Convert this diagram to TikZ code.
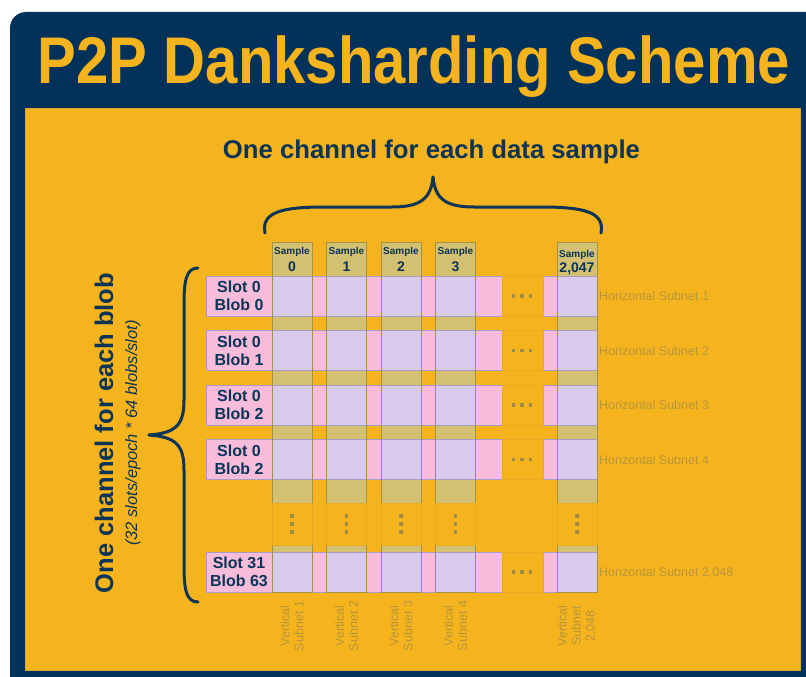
\documentclass[tikz,border=0pt]{standalone}
\usepackage{graphicx}
\usepackage{fontspec}
\setmainfont{Liberation Sans}
\definecolor{navy}{HTML}{02315A}
\definecolor{gold}{HTML}{F5B41E}
\definecolor{txtnavy}{HTML}{0C3457}
\definecolor{pinkc}{HTML}{F7BCD9}
\definecolor{lav}{HTML}{D8CAEA}
\definecolor{olive}{HTML}{D3C071}
\definecolor{oliveline}{HTML}{A39146}
\definecolor{rowline}{HTML}{A99CC4}
\definecolor{faint}{HTML}{E6AC24}
\definecolor{dotc}{HTML}{9E8B45}
\definecolor{lbl}{HTML}{B8963A}
\newcommand\mydotsH[2]{\foreach \dd in {-8.5,0,8.5}{\fill[dotc] ({#1+\dd-1.7},{#2-1.7}) rectangle ++(3.4,3.4);}}
\newcommand\mydotsV[2]{\foreach \dd in {-8,0,8}{\fill[dotc] ({#1-1.7},{#2+\dd-1.7}) rectangle ++(3.4,3.4);}}
\begin{document}
\begin{tikzpicture}[x=1pt,y=-1pt,
  braceline/.style={draw=txtnavy, line width=3pt, line cap=round},
  sampword/.style={text=txtnavy, font=\bfseries\fontsize{10}{10}\selectfont, anchor=base, inner sep=0pt},
  sampnum/.style={text=txtnavy, font=\bfseries\fontsize{14}{14}\selectfont, anchor=base, inner sep=0pt},
  slottxt/.style={text=txtnavy, font=\bfseries\fontsize{16}{18}\selectfont, align=center, inner sep=0pt},
  sublbl/.style={text=lbl, font=\fontsize{12.5}{14}\selectfont, inner sep=0pt},
  colline/.style={draw=oliveline, line width=1pt},
  rowedge/.style={draw=rowline, line width=1pt},
  faintbox/.style={draw=faint, line width=0.6pt, fill=gold},
]
\useasboundingbox (0,0) rectangle (806,677);
\fill[white] (0,0) rectangle (806,677);
\fill[navy, rounded corners=16pt] (10,12) rectangle (840,700);
\filldraw[fill=gold, draw=gold!75!gray, line width=0.8pt] (25,108) rectangle (800,670);

% title
\node[anchor=base, text=gold, inner sep=0pt, font=\bfseries\fontsize{66}{66}\selectfont] (title) at (414,84) {\scalebox{0.88}[1]{P2P Danksharding Scheme}};

% top label and brace
\node[anchor=base, text=txtnavy, inner sep=0pt, font=\bfseries\fontsize{25.7}{26}\selectfont] (toplabel) at (431.5,158) {One channel for each data sample};
\coordinate (tbL) at (265,233);
\coordinate (tbR) at (601,233);
\coordinate (tbTip) at (433,177);
\draw[braceline] (tbL) .. controls (261,212) and (282,207) .. (325,207) -- (392,207) .. controls (420,207) and (431,199) .. (tbTip);
\draw[braceline] (tbR) .. controls (605,212) and (584,207) .. (541,207) -- (474,207) .. controls (446,207) and (435,199) .. (tbTip);

% left label and brace
\node[rotate=90, anchor=base, text=txtnavy, inner sep=0pt, font=\bfseries\fontsize{25.5}{26}\selectfont] (leftlabel) at (113,433) {One channel for each blob};
\node[rotate=90, anchor=base, text=txtnavy, inner sep=0pt, font=\itshape\fontsize{16.5}{17}\selectfont] (leftsub) at (137,433) {(32 slots/epoch * 64 blobs/slot)};
\coordinate (lbT) at (198,268);
\coordinate (lbB) at (198,602);
\coordinate (lbTip) at (149,435);
\draw[braceline] (lbT) .. controls (186,268) and (184,281) .. (184,305) -- (184,400) .. controls (184,425) and (176,433) .. (lbTip);
\draw[braceline] (lbB) .. controls (186,602) and (184,589) .. (184,565) -- (184,470) .. controls (184,445) and (176,437) .. (lbTip);

% column olive strips
\foreach \x in {272,326.5,381,435.5,557}{
  \fill[olive] (\x,242) rectangle (\x+40,592);
}

% rows
\foreach \t/\a/\b/\h [count=\i] in {276/0/0/1, 330.5/0/1/2, 385/0/2/3, 439.5/0/2/4, 552/31/63/{2,048}}{
  \fill[pinkc] (206,\t) rectangle (502,\t+40);
  \fill[pinkc] (543,\t) rectangle (597,\t+40);
  \foreach \x in {272,326.5,381,435.5,557}{
    \fill[lav] (\x,\t) rectangle (\x+40,\t+40);
  }
  \draw[rowedge] (502,\t) -- (206,\t) -- (206,\t+40) -- (502,\t+40);
  \draw[rowedge] (543,\t) -- (597,\t);
  \draw[rowedge] (543,\t+40) -- (597,\t+40);
  \draw[faintbox] (502,\t) rectangle (543,\t+40);
  \mydotsH{522}{\t+20}
  \node[slottxt] (slot\i) at (239,\t+20) {Slot \a\\Blob \b};
  \node[sublbl, anchor=base west] (hs\i) at (599,\t+24.5) {Horizontal Subnet \h};
}

% dots row
\foreach \x [count=\i] in {272,326.5,381,435.5,557}{
  \draw[faintbox] (\x,503) rectangle (\x+40,545);
  \mydotsV{\x+20}{524}
}

% column outlines
\foreach \x in {272,326.5,381,435.5,557}{
  \draw[colline] (\x,503) -- (\x,242) -- (\x+40,242) -- (\x+40,503);
  \draw[colline] (\x,545) -- (\x,592) -- (\x+40,592) -- (\x+40,545);
}

% sample headers and vertical subnet labels
\foreach \x/\n/\v [count=\i] in {272/0/1, 326.5/1/2, 381/2/3, 435.5/3/4}{
  \node[sampword] (samp\i) at (\x+20,254) {Sample};
  \node[sampnum] (num\i) at (\x+20,271) {\n};
  \node[sublbl, rotate=90, align=center] (vs\i) at (\x+20,626) {Vertical\\Subnet \v};
}
\node[sampword] (samp5) at (577,257) {Sample};
\node[sampnum] (num5) at (577,272) {2,047};
\node[sublbl, rotate=90, align=center] (vs5) at (577,626) {Vertical\\Subnet\\2,048};
\end{tikzpicture}
\end{document}
